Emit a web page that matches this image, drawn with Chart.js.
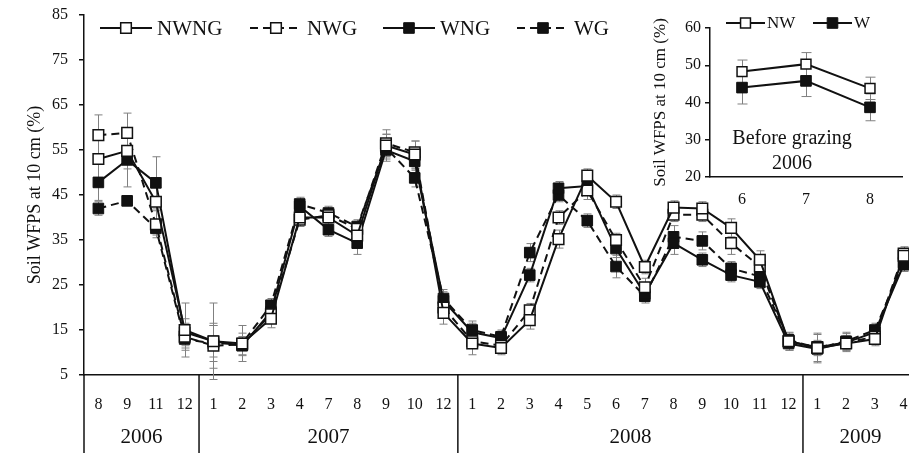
<!DOCTYPE html>
<html>
<head>
<meta charset="utf-8">
<script src="https://cdn.jsdelivr.net/npm/chart.js@4.4.1/dist/chart.umd.min.js"></script>
<style>
  html, body { margin: 0; padding: 0; background: #fff; overflow: hidden; }
  #wrap { position: relative; width: 909px; height: 453px; overflow: hidden; }
  #mainChart { position: absolute; left: 0; top: 0; }
  #insetChart { position: absolute; left: 640px; top: 0; }
</style>
</head>
<body>
<div id="wrap">
  <canvas id="mainChart" width="918" height="453"></canvas>
  <canvas id="insetChart" width="269" height="215"></canvas>
</div>
<script>
// sampling months, grouped by year
const months = ['8','9','11','12','1','2','3','4','7','8','9','10','12','1','2','3','4','5','6','7','8','9','10','11','12','1','2','3','4'];
const years = ['2006', '2007', '2008', '2009'];
const monthsPerYear = [4, 9, 12, 4];

// soil WFPS (%) means and errors
const nwng = [53, 54.8, 43.5, 15, 12.5, 12, 17.5, 40, 40, 36, 56, 54, 18.8, 12, 11, 17.2, 35.2, 49.3, 43.5, 29, 42.2, 42, 37.7, 30.6, 12.5, 11, 12, 13, 31.5];
const nwngErr = [4.5, 4, 4, 6, 8.5, 4, 2, 1.5, 1.5, 2, 2.5, 3, 2.5, 2.5, 1.5, 2, 2, 1.5, 1.5, 1.5, 1.5, 1.5, 2, 2, 2, 3, 1.5, 1.5, 1.5];
const nwg = [58.3, 58.8, 38.5, 13.5, 11.5, 11.8, 18.5, 39.5, 40.5, 37.5, 56.5, 54.5, 20, 12.5, 11.5, 19.4, 40, 46, 35, 24.5, 40.6, 40.6, 34.3, 29.1, 12.5, 11.2, 12.2, 13.5, 32];
const nwgErr = [4.5, 4.4, 3, 3, 5, 2.5, 1.5, 1.5, 1.5, 1.5, 3, 2.5, 2, 1.5, 1.5, 1.5, 1.5, 2, 1.5, 2, 1.5, 1.5, 2.5, 2, 1.5, 1.5, 1.5, 1.5, 1.5];
const wng = [47.8, 52.8, 47.7, 14.5, 12.5, 11.5, 19, 42.5, 37.3, 34.3, 55, 52.5, 21.5, 14.5, 13.2, 27.2, 46.5, 47, 33.1, 23, 34.3, 30.6, 27.2, 25.7, 12, 10.8, 12.2, 14.5, 29.5];
const wngErr = [4, 6, 5.8, 3, 3.5, 2, 1.5, 1.5, 1.5, 2.5, 2, 2, 2, 2, 1.5, 1.5, 1.5, 1.5, 2, 1.5, 2.5, 1.5, 1.5, 1.5, 1.5, 1.5, 2, 1.5, 1.5];
const wg = [42, 43.7, 37.6, 13, 12, 12, 20.5, 43, 41, 38, 55.5, 48.8, 22, 15, 13.5, 32.2, 45, 39.3, 29.1, 22.5, 35.7, 34.8, 28.7, 26.9, 12.8, 11, 12.5, 15, 30];
const wgErr = [1.5, 1, 1.5, 2, 4, 1.5, 1.5, 1.5, 1.5, 1.5, 3, 2, 2, 2, 1.5, 2, 1.5, 1.5, 2.5, 1.5, 2.5, 2, 1.5, 1.5, 1.5, 3.3, 2, 1.5, 1.5];
const yMin = 5, yMax = 85, yStep = 10;

// before grazing, 2006
const insetMonths = ['6', '7', '8'];
const nw = [48.3, 50.3, 43.8];
const nwErr = [3.1, 3.1, 3];
const w = [44, 45.8, 38.7];
const wErr = [4.4, 4.2, 3.6];
const insetMin = 20, insetMax = 60, insetStep = 10;

const ink = '#111';
const serif = '"Liberation Serif", "Times New Roman", serif';
Chart.defaults.font.family = serif;
Chart.defaults.color = ink;

function series(label, data, errs, hollow, dashed, radius) {
  return {
    label: label,
    data: data,
    errorBars: errs,
    borderColor: ink,
    borderWidth: 2,
    borderDash: dashed ? [8, 5] : [],
    pointStyle: 'rect',
    pointRadius: radius,
    pointBorderWidth: hollow ? 1.5 : 1,
    pointBackgroundColor: hollow ? '#fff' : ink,
    pointBorderColor: ink,
    tension: 0,
    fill: false
  };
}

function square(ctx, x, y, r, hollow) {
  const s = r * Math.SQRT1_2;
  ctx.setLineDash([]);
  ctx.beginPath();
  ctx.rect(x - s, y - s, 2 * s, 2 * s);
  ctx.fillStyle = hollow ? '#fff' : ink;
  ctx.fill();
  ctx.lineWidth = hollow ? 1.5 : 1;
  ctx.strokeStyle = ink;
  ctx.stroke();
}

// keep the plot edges fixed regardless of label overhang
function noPadding(scale) {
  scale.paddingTop = 0;
  scale.paddingBottom = 0;
  scale.paddingLeft = 0;
  scale.paddingRight = 0;
}

// grey whiskers with caps, under the lines
const errorBars = {
  id: 'errorBars',
  beforeDatasetsDraw(chart, args, opts) {
    const { ctx, scales: { x, y } } = chart;
    ctx.save();
    ctx.strokeStyle = '#808080';
    ctx.lineWidth = 1;
    chart.data.datasets.forEach(ds => {
      ds.data.forEach((v, j) => {
        const e = ds.errorBars[j];
        const px = Math.round(x.getPixelForValue(j)) + 0.5;
        const top = y.getPixelForValue(v + e);
        const bot = y.getPixelForValue(v - e);
        ctx.beginPath();
        ctx.moveTo(px, top); ctx.lineTo(px, bot);
        ctx.moveTo(px - opts.cap, top); ctx.lineTo(px + opts.cap, top);
        ctx.moveTo(px - opts.cap, bot); ctx.lineTo(px + opts.cap, bot);
        ctx.stroke();
      });
    });
    ctx.restore();
  }
};

// legend keys: line sample with the marker in the middle
const lineLegend = {
  id: 'lineLegend',
  afterDraw(chart, args, opts) {
    const ctx = chart.ctx;
    ctx.save();
    chart.data.datasets.forEach((ds, i) => {
      const x0 = opts.starts[i];
      ctx.strokeStyle = ink;
      ctx.lineWidth = 2;
      ctx.setLineDash(ds.borderDash);
      ctx.beginPath();
      ctx.moveTo(x0, opts.y);
      ctx.lineTo(x0 + opts.lineLen, opts.y);
      ctx.stroke();
      square(ctx, x0 + opts.lineLen / 2, opts.y, ds.pointRadius, ds.pointBackgroundColor === '#fff');
      ctx.fillStyle = ink;
      ctx.font = opts.font;
      ctx.textBaseline = 'middle';
      ctx.textAlign = 'left';
      ctx.fillText(ds.label, x0 + opts.textGap, opts.y + 1);
    });
    ctx.restore();
  }
};

// year row under the month labels
const yearAxis = {
  id: 'yearAxis',
  afterDraw(chart) {
    const { ctx, chartArea, scales: { x } } = chart;
    const h = chart.height;
    ctx.save();
    ctx.strokeStyle = ink;
    ctx.lineWidth = 1.5;
    ctx.beginPath();
    ctx.moveTo(chartArea.left, chartArea.bottom);
    ctx.lineTo(chartArea.left, h);
    ctx.stroke();
    ctx.fillStyle = ink;
    ctx.font = '21px ' + serif;
    ctx.textAlign = 'center';
    ctx.textBaseline = 'middle';
    let start = 0;
    years.forEach((yr, i) => {
      const end = start + monthsPerYear[i];
      const left = x.getPixelForValue(start - 0.5);
      const right = x.getPixelForValue(end - 0.5);
      if (i < years.length - 1) {
        ctx.beginPath();
        ctx.moveTo(right, chartArea.bottom);
        ctx.lineTo(right, h);
        ctx.stroke();
      }
      ctx.fillText(yr, (left + right) / 2, 437);
      start = end;
    });
    ctx.restore();
  }
};

new Chart(document.getElementById('mainChart'), {
  type: 'line',
  data: {
    labels: months,
    datasets: [
      series('NWNG', nwng, nwngErr, true, false, 7.5),
      series('NWG', nwg, nwgErr, true, true, 7.5),
      series('WNG', wng, wngErr, false, false, 7.5),
      series('WG', wg, wgErr, false, true, 7.5)
    ]
  },
  options: {
    responsive: false,
    animation: false,
    events: [],
    layout: { autoPadding: false, padding: { top: 15, right: 0, bottom: 0, left: 0 } },
    plugins: {
      legend: { display: false },
      tooltip: { enabled: false },
      errorBars: { cap: 4 },
      lineLegend: { starts: [100, 250, 383, 517], y: 28, lineLen: 52, textGap: 57, font: '21px ' + serif }
    },
    scales: {
      x: {
        offset: true,
        grid: { display: false, drawTicks: false },
        border: { display: true, color: ink, width: 1.5 },
        ticks: { autoSkip: false, maxRotation: 0, color: ink, font: { size: 16 }, padding: 20 },
        afterFit(scale) { scale.height = 78; noPadding(scale); }
      },
      y: {
        min: yMin,
        max: yMax,
        ticks: { stepSize: yStep, color: ink, font: { size: 16 }, padding: 11 },
        grid: { drawOnChartArea: false, drawTicks: true, tickLength: 5, color: ink, lineWidth: 1.5 },
        border: { display: true, color: ink, width: 1.5 },
        title: { display: true, text: 'Soil WFPS at 10 cm (%)', color: ink, font: { size: 18 }, padding: { top: 24, bottom: 0 } },
        afterFit(scale) { scale.width = 84; noPadding(scale); }
      }
    }
  },
  plugins: [errorBars, lineLegend, yearAxis]
});

// note inside the inset
const insetNote = {
  id: 'insetNote',
  afterDraw(chart) {
    const { ctx, chartArea } = chart;
    ctx.save();
    ctx.fillStyle = ink;
    ctx.font = '20px ' + serif;
    ctx.textAlign = 'center';
    ctx.textBaseline = 'middle';
    const cx = chartArea.left + 82;
    ctx.fillText('Before grazing', cx, 139);
    ctx.fillText('2006', cx, 164);
    ctx.restore();
  }
};

new Chart(document.getElementById('insetChart'), {
  type: 'line',
  data: {
    labels: insetMonths,
    datasets: [
      series('NW', nw, nwErr, true, false, 7),
      series('W', w, wErr, false, false, 7.5)
    ]
  },
  options: {
    responsive: false,
    animation: false,
    events: [],
    layout: { autoPadding: false, padding: { top: 28, right: 7, bottom: 0, left: 0 } },
    plugins: {
      legend: { display: false },
      tooltip: { enabled: false },
      errorBars: { cap: 5 },
      lineLegend: { starts: [86, 173], y: 23, lineLen: 39, textGap: 41, font: '17px ' + serif }
    },
    scales: {
      x: {
        offset: true,
        grid: { display: false, drawTicks: false },
        border: { display: true, color: ink, width: 1.5 },
        ticks: { color: ink, font: { size: 16 }, padding: 13 },
        afterFit(scale) { scale.height = 38; noPadding(scale); }
      },
      y: {
        min: insetMin,
        max: insetMax,
        ticks: { stepSize: insetStep, color: ink, font: { size: 16 }, padding: 4 },
        grid: { drawOnChartArea: false, drawTicks: true, tickLength: 5, color: ink, lineWidth: 1.5 },
        border: { display: true, color: ink, width: 1.5 },
        title: { display: true, text: 'Soil WFPS at 10 cm (%)', color: ink, font: { size: 17 }, padding: { top: 10, bottom: 0 } },
        afterFit(scale) { scale.width = 70; noPadding(scale); }
      }
    }
  },
  plugins: [errorBars, lineLegend, insetNote]
});
</script>
</body>
</html>
